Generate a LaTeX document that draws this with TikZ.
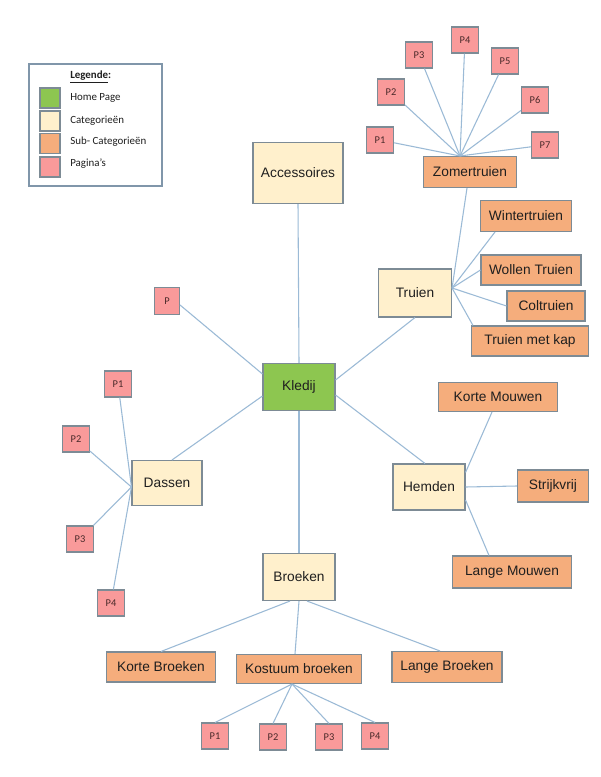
\documentclass[tikz,border=0pt]{standalone}
\usepackage{fontspec}
\setmainfont{Liberation Sans}
\newfontfamily\calib{Carlito}
\usetikzlibrary{calc}
\definecolor{bordc}{HTML}{7D8B95}
\definecolor{linec}{HTML}{9BBAD6}
\definecolor{homec}{HTML}{8DC650}
\definecolor{catc}{HTML}{FFF0CC}
\definecolor{subc}{HTML}{F5AD7C}
\definecolor{pagc}{HTML}{F99A9A}
\definecolor{legc}{HTML}{8096AA}
\definecolor{ptext}{HTML}{4A2A2A}
\tikzset{
  box/.style={draw=bordc, line width=0.8pt, inner sep=0pt, text=black!88,
    font=\fontsize{10.3}{12}\selectfont},
  sz/.style 2 args={minimum width=#1*0.75pt, minimum height=#2*0.75pt},
  home/.style={box, fill=homec},
  cat/.style={box, fill=catc},
  sub/.style={box, fill=subc},
  pg/.style={box, fill=pagc, text=ptext,
    font=\calib\fontsize{7.8}{9}\selectfont, sz={27}{26}},
  link/.style={draw=linec, line width=0.8pt},
  swatch/.style={draw=bordc, line width=0.8pt, inner sep=0pt, sz={20}{20}},
  legtext/.style={anchor=west, inner sep=0pt, font=\calib\fontsize{8.2}{10}\selectfont, text=black!88},
}
\begin{document}
\begin{tikzpicture}[x=0.75pt, y=-0.75pt]
\useasboundingbox[fill=white] (0,0) rectangle (600,777);

% Legend
\node[draw=legc, line width=0.8pt, inner sep=0pt, sz={133}{122}] (legend) at (95.5,125) {};
\node[legtext, font=\calib\bfseries\fontsize{8.2}{10}\selectfont] (legtitle) at (70,77) {\underline{Legende}:};
\node[swatch, fill=homec] (swh) at (50,98) {};
\node[swatch, fill=catc] (swc) at (50,121) {};
\node[swatch, fill=subc] (sws) at (50,143.5) {};
\node[swatch, fill=pagc] (swp) at (50,167) {};
\node[legtext] (lh) at (70,98) {Home Page};
\node[legtext] (lc) at (70,121) {Categorieën};
\node[legtext] (ls) at (70,142) {Sub- Categorieën};
\node[legtext] (lp) at (70,164) {Pagina’s};

% Main nodes
\node[home, sz={72}{47}] (kledij) at (299,387) {Kledij};
\node[cat, sz={90}{61}] (acc) at (298,173) {Accessoires};
\node[pg, sz={25}{27}] (pk) at (167,301) {P};
\node[cat, sz={73}{48}] (truien) at (415,293) {Truien};
\node[cat, sz={72}{46}] (hemden) at (429,487) {Hemden};
\node[cat, sz={70}{45}] (dassen) at (167,483) {Dassen};
\node[cat, sz={72}{47}] (broeken) at (299,577) {Broeken};

% Truien subs
\node[sub, sz={93}{31}] (zomer) at (470,172) {Zomertruien};
\node[sub, sz={91}{31}] (winter) at (526,216) {Wintertruien};
\node[sub, sz={100}{30}] (wollen) at (531,270) {Wollen Truien};
\node[sub, sz={78}{30}] (col) at (546,306) {Coltruien};
\node[sub, sz={117}{30}] (kap) at (530,341) {Truien met kap};

% Zomertruien pages
\node[pg] (zp1) at (380,140) {P1};
\node[pg] (zp2) at (391,92) {P2};
\node[pg] (zp3) at (419,55) {P3};
\node[pg] (zp4) at (465,40) {P4};
\node[pg] (zp5) at (505,61) {P5};
\node[pg] (zp6) at (535,100) {P6};
\node[pg] (zp7) at (545,145) {P7};

% Hemden subs
\node[sub, sz={119}{29}] (km) at (498,397) {Korte Mouwen};
\node[sub, sz={71}{32}] (sv) at (553,486) {Strijkvrij};
\node[sub, sz={119}{32}] (lm) at (512,572) {Lange Mouwen};

% Dassen pages
\node[pg] (dp1) at (118,384) {P1};
\node[pg] (dp2) at (76,439) {P2};
\node[pg] (dp3) at (80,539) {P3};
\node[pg] (dp4) at (111,603) {P4};

% Broeken subs
\node[sub, sz={109}{30}] (kb) at (161,667) {Korte Broeken};
\node[sub, sz={125}{29}] (kos) at (299,669) {Kostuum broeken};
\node[sub, sz={110}{31}] (lb) at (447,667) {Lange Broeken};

% Kostuum pages
\node[pg] (kp1) at (215,736) {P1};
\node[pg] (kp2) at (273,737) {P2};
\node[pg] (kp3) at (329,737) {P3};
\node[pg] (kp4) at (375,736) {P4};

% Convergence points
\coordinate (zc) at ([xshift=-7.5pt]zomer.north);
\coordinate (tc) at ([yshift=3.75pt]truien.east);
\coordinate (dc) at ([yshift=-3pt]dassen.west);
\coordinate (kc) at ([xshift=-5.25pt]kos.south);

% Connectors from Kledij
\draw[link] (kledij.north) -- (acc.south);
\draw[link] ([yshift=9.75pt]kledij.west) -- ([yshift=-3pt]pk.east);
\draw[link] ([yshift=5.25pt]kledij.east) -- (truien.south);
\draw[link] ([yshift=-6pt]kledij.east) -- ([xshift=-3pt]hemden.north);
\draw[link] ([yshift=-6.75pt]kledij.west) -- ([xshift=3.75pt]dassen.north);
\draw[link] (kledij.south) -- (broeken.north);

% Truien
\draw[link] (tc) -- ([xshift=-2.25pt]zomer.south);
\draw[link] (tc) -- ([xshift=11.25pt]winter.south west);
\draw[link] (tc) -- (wollen.west);
\draw[link] (tc) -- (col.west);
\draw[link] (tc) -- ([xshift=1.5pt]kap.north west);

% Zomertruien
\foreach \p in {zp1,zp2,zp3,zp4,zp5,zp6,zp7} \draw[link] (\p) -- (zc);

% Hemden
\draw[link] ([yshift=-6.75pt]hemden.north east) -- ([xshift=-4.5pt]km.south);
\draw[link] (hemden.east) -- (sv.west);
\draw[link] ([yshift=-9.75pt]hemden.east) -- ([xshift=-17.25pt]lm.north);

% Dassen
\foreach \p in {dp1,dp2,dp3,dp4} \draw[link] (\p) -- (dc);

% Broeken
\draw[link] ([xshift=-6.75pt]broeken.south) -- (kb.north);
\draw[link] (broeken.south) -- ([xshift=-3pt]kos.north);
\draw[link] ([xshift=6pt]broeken.south) -- ([xshift=-5.25pt]lb.north);

% Kostuum
\foreach \p in {kp1,kp2,kp3,kp4} \draw[link] (kc) -- (\p.north);
\end{tikzpicture}
\end{document}
